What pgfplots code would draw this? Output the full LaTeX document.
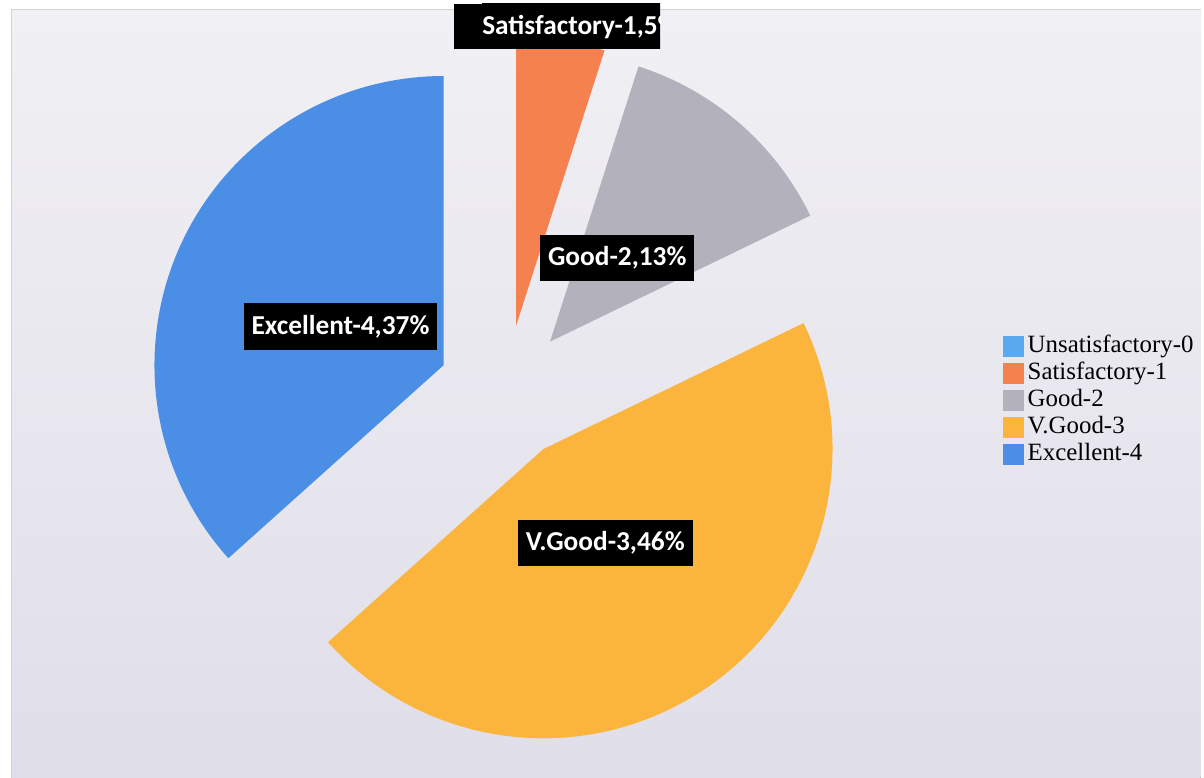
\documentclass[border=0pt]{standalone}
\usepackage{fontspec}
\setmainfont{Liberation Serif}
\newfontfamily\carlito{Carlito}
\usepackage{pgfplots}
\pgfplotsset{compat=1.18}
\definecolor{cUns}{HTML}{5AA8EE}
\definecolor{cSat}{HTML}{F5824E}
\definecolor{cGood}{HTML}{B3B1BB}
\definecolor{cVG}{HTML}{FBB43C}
\definecolor{cExc}{HTML}{4A8EE6}
\definecolor{bgTop}{HTML}{F1F0F4}
\definecolor{bgBot}{HTML}{E0DEE9}
\begin{document}
\begin{tikzpicture}
% data: share of each grade (%)
\def\vUns{0}\def\vSat{5}\def\vGood{13}\def\vVG{46}\def\vExc{37}
\pgfmathsetmacro\total{\vUns+\vSat+\vGood+\vVG+\vExc}
\pgfmathsetmacro\unit{360/\total}
\pgfmathsetmacro\sA{90-\unit*\vUns}
\pgfmathsetmacro\sB{\sA-\unit*\vSat}
\pgfmathsetmacro\sC{\sB-\unit*\vGood}
\pgfmathsetmacro\sD{\sC-\unit*\vVG}
\pgfmathsetmacro\sE{\sD-\unit*\vExc}
\def\cx{507}\def\cy{386}\def\ex{68}
\pgfmathsetmacro\xB{\cx+\ex*cos((\sA+\sB)/2)}\pgfmathsetmacro\yB{\cy+\ex*sin((\sA+\sB)/2)}
\pgfmathsetmacro\xC{\cx+\ex*cos((\sB+\sC)/2)}\pgfmathsetmacro\yC{\cy+\ex*sin((\sB+\sC)/2)}
\pgfmathsetmacro\xD{\cx+\ex*cos((\sC+\sD)/2)}\pgfmathsetmacro\yD{\cy+\ex*sin((\sC+\sD)/2)}
\pgfmathsetmacro\xE{\cx+\ex*cos((\sD+\sE)/2)}\pgfmathsetmacro\yE{\cy+\ex*sin((\sD+\sE)/2)}
\begin{axis}[
  width=12.04cm, height=7.8cm, scale only axis,
  xmin=0, xmax=1204, ymin=0, ymax=780,
  axis lines=none, clip=true,
  legend style={at={(axis cs:995,452)}, anchor=north west, draw=none, fill=none,
    font=\fontsize{7.1}{8}\selectfont, row sep=1pt, column sep=0.04cm,
    nodes={inner sep=0pt, text height=5.2pt, text depth=1.5pt}},
  legend cell align=left,
  legend image code/.code={\fill[#1] (0cm,-0.097cm) rectangle (0.19cm,0.097cm);},
]
\fill[white] (axis cs:0,0) rectangle (axis cs:1204,780);
\fill[top color=bgTop, bottom color=bgBot] (axis cs:12,0) rectangle (axis cs:1204,770);
\draw[gray!35, line width=0.3pt] (axis cs:12,0) -- (axis cs:12,770) -- (axis cs:1204,770);
\fill[cSat]  (axis cs:\xB,\yB) -- ++(\sA:2.9cm) arc[start angle=\sA, end angle=\sB, radius=2.9cm] -- cycle;
\fill[cGood] (axis cs:\xC,\yC) -- ++(\sB:2.9cm) arc[start angle=\sB, end angle=\sC, radius=2.9cm] -- cycle;
\fill[cVG]   (axis cs:\xD,\yD) -- ++(\sC:2.9cm) arc[start angle=\sC, end angle=\sD, radius=2.9cm] -- cycle;
\fill[cExc]  (axis cs:\xE,\yE) -- ++(\sD:2.9cm) arc[start angle=\sD, end angle=\sE, radius=2.9cm] -- cycle;
\tikzset{lbl/.style={fill=black, text=white, font=\carlito\bfseries\fontsize{7.8}{9}\selectfont,
  inner xsep=0.08cm, minimum height=0.45cm}}
\node[lbl] at (axis cs:341.5,452.5) {Excellent-4,37\%};
\node[lbl] at (axis cs:619,521.5) {Good-2,13\%};
\node[lbl] at (axis cs:607,235.5) {V.Good-3,46\%};
\begin{scope}
\clip (axis cs:455,731) rectangle (axis cs:662,776);
\fill[black] (axis cs:455,731) rectangle (axis cs:662,776);
\node[lbl, anchor=west, inner xsep=0pt] at (axis cs:483,753) {Satisfactory-1,5\%};
\end{scope}
\addlegendimage{cUns}\addlegendentry{Unsatisfactory-0}
\addlegendimage{cSat}\addlegendentry{Satisfactory-1}
\addlegendimage{cGood}\addlegendentry{Good-2}
\addlegendimage{cVG}\addlegendentry{V.Good-3}
\addlegendimage{cExc}\addlegendentry{Excellent-4}
\end{axis}
\end{tikzpicture}
\end{document}
